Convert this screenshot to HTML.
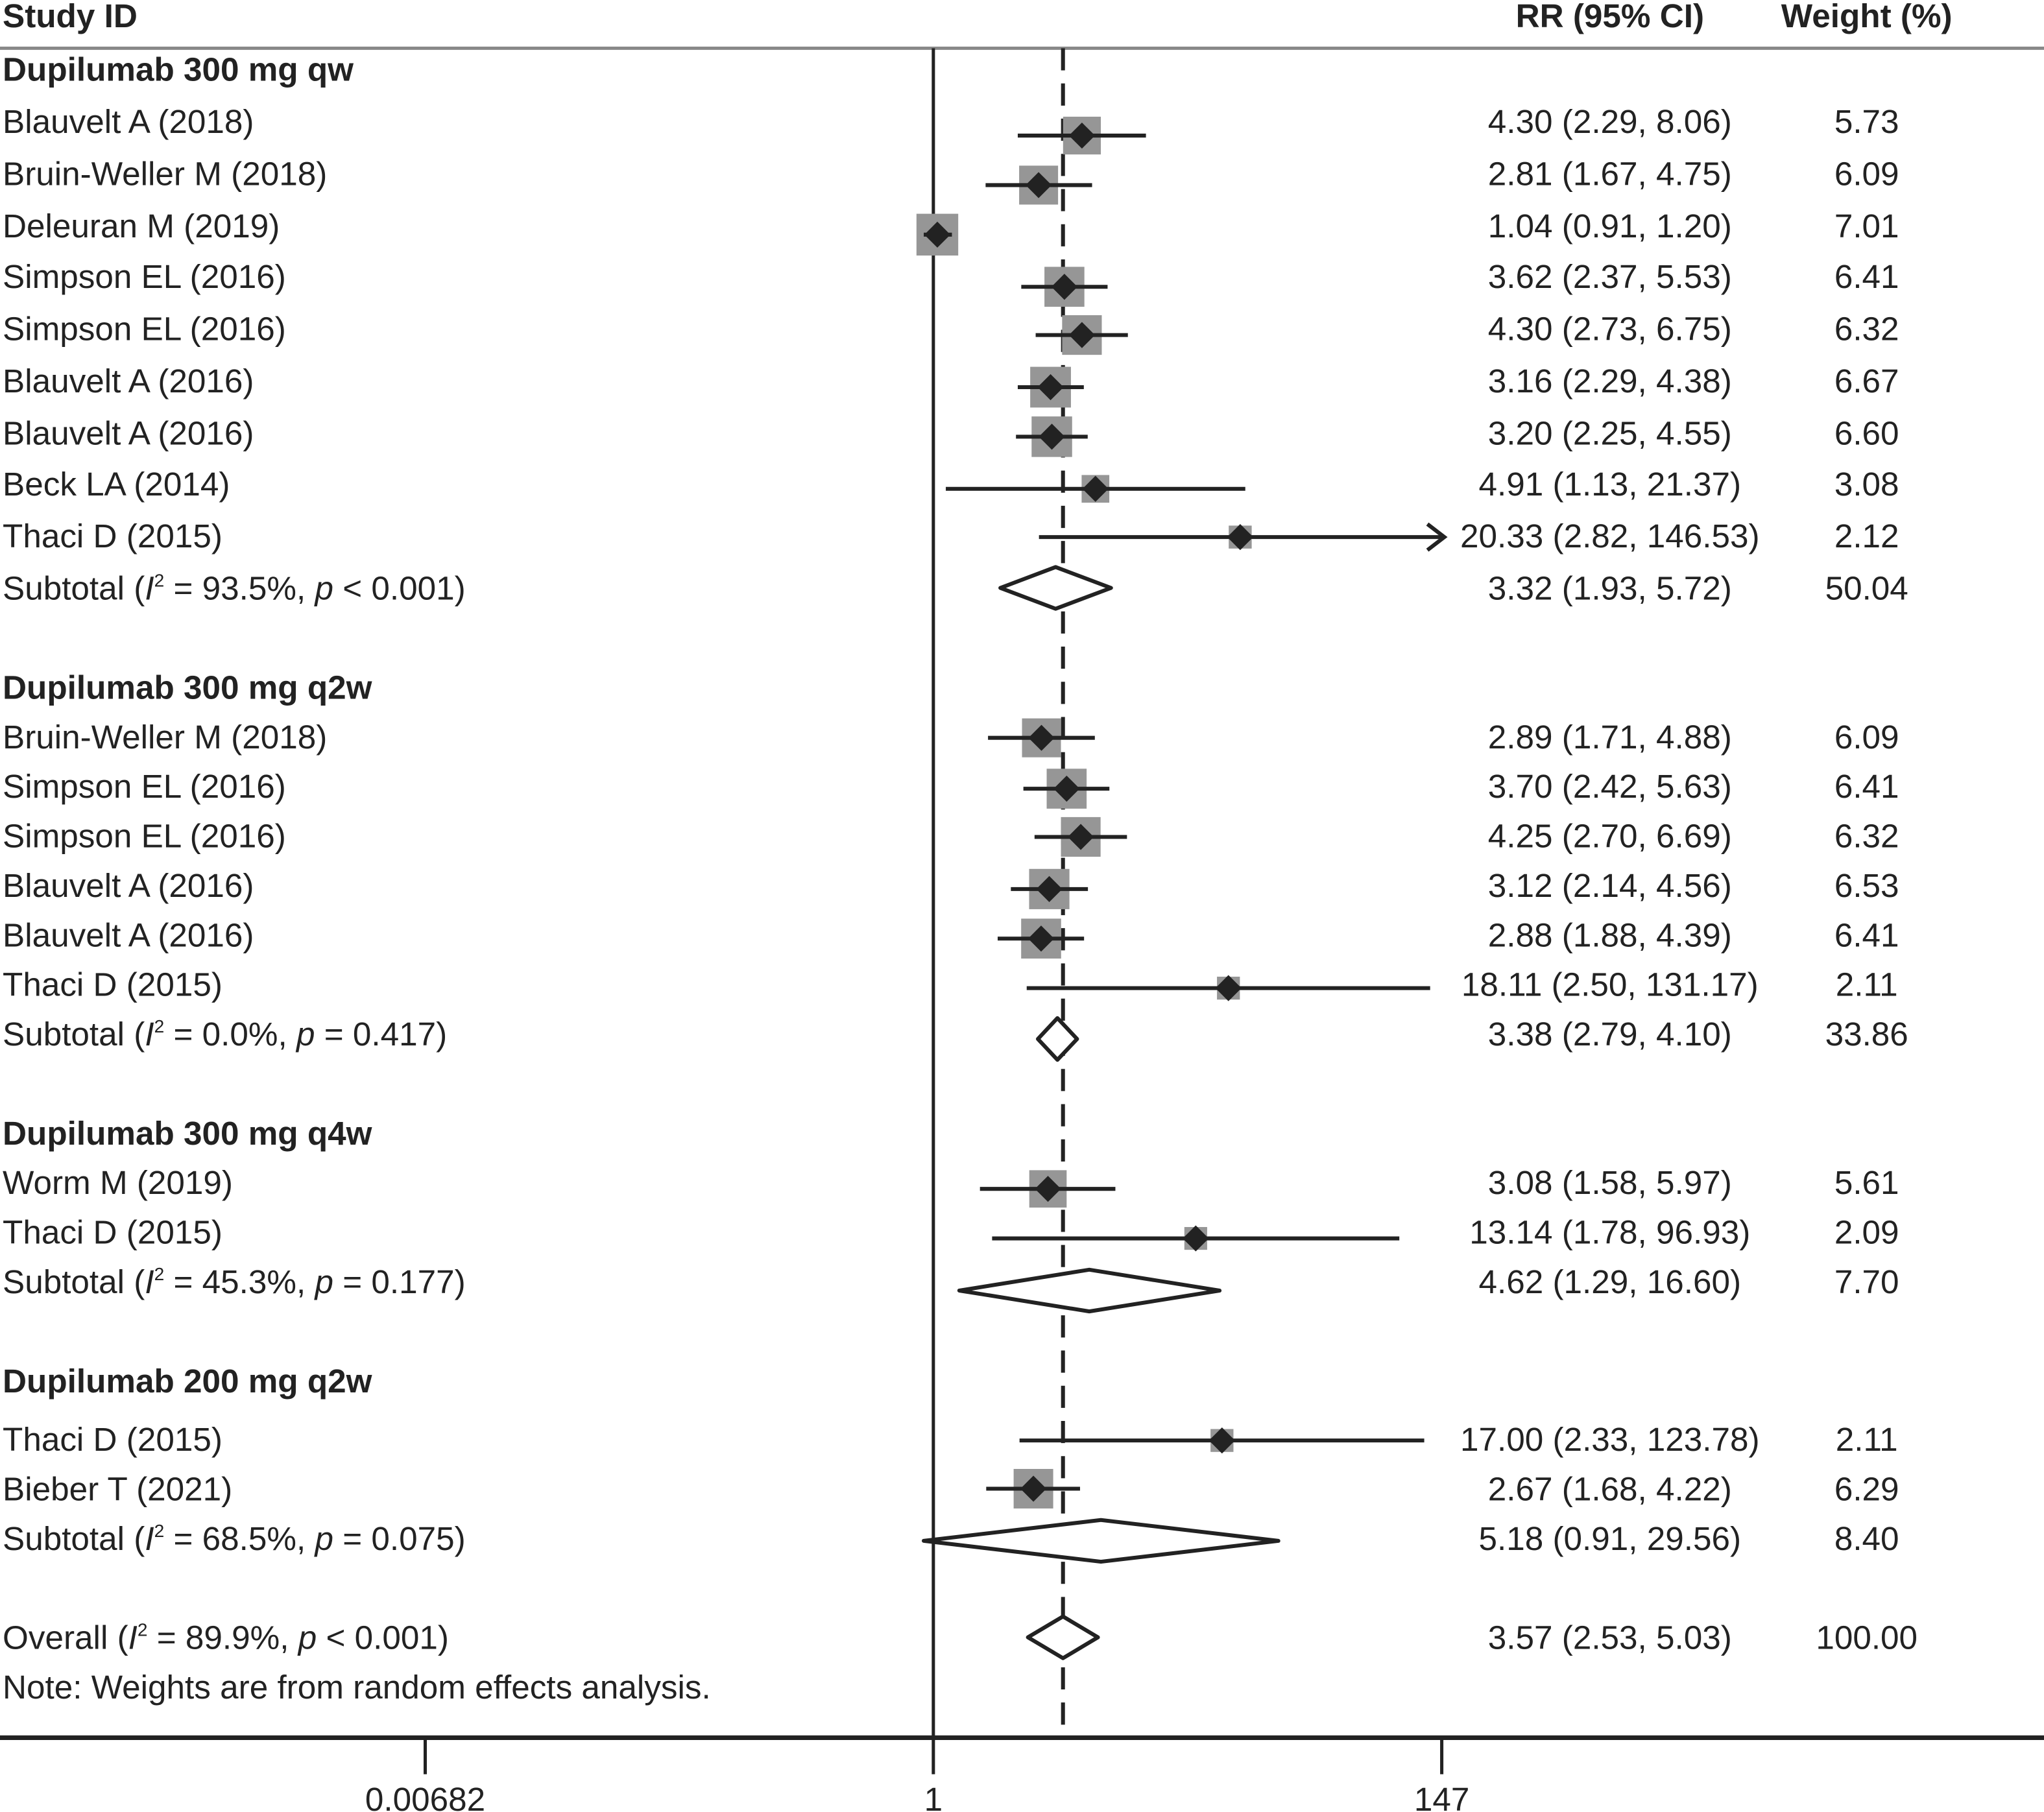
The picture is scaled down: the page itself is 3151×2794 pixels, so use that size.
<!DOCTYPE html>
<html><head><meta charset="utf-8"><style>
html,body{margin:0;padding:0;background:#fff;}
svg{display:block;}
text{font-family:"Liberation Sans",sans-serif;fill:#222;}
</style></head><body>
<svg id="plot" width="3151" height="2794" viewBox="0 0 1568 1390" preserveAspectRatio="none" xmlns="http://www.w3.org/2000/svg"></svg>
<script>
// ---- data ----
const studyLabels = ["Blauvelt A (2018)","Bruin-Weller M (2018)","Deleuran M (2019)","Simpson EL (2016)","Simpson EL (2016)","Blauvelt A (2016)","Blauvelt A (2016)","Beck LA (2014)","Thaci D (2015)",
"Bruin-Weller M (2018)","Simpson EL (2016)","Simpson EL (2016)","Blauvelt A (2016)","Blauvelt A (2016)","Thaci D (2015)",
"Worm M (2019)","Thaci D (2015)",
"Thaci D (2015)","Bieber T (2021)"];
const studyGroup = [0,0,0,0,0,0,0,0,0, 1,1,1,1,1,1, 2,2, 3,3];
const rrValues = [4.30,2.81,1.04,3.62,4.30,3.16,3.20,4.91,20.33, 2.89,3.70,4.25,3.12,2.88,18.11, 3.08,13.14, 17.00,2.67];
const ciLower = [2.29,1.67,0.91,2.37,2.73,2.29,2.25,1.13,2.82, 1.71,2.42,2.70,2.14,1.88,2.50, 1.58,1.78, 2.33,1.68];
const ciUpper = [8.06,4.75,1.20,5.53,6.75,4.38,4.55,21.37,146.53, 4.88,5.63,6.69,4.56,4.39,131.17, 5.97,96.93, 123.78,4.22];
const weights = [5.73,6.09,7.01,6.41,6.32,6.67,6.60,3.08,2.12, 6.09,6.41,6.32,6.53,6.41,2.11, 5.61,2.09, 2.11,6.29];
const groupNames = ["Dupilumab 300 mg qw","Dupilumab 300 mg q2w","Dupilumab 300 mg q4w","Dupilumab 200 mg q2w"];
const subRR = [3.32,3.38,4.62,5.18];
const subLo = [1.93,2.79,1.29,0.91];
const subHi = [5.72,4.10,16.60,29.56];
const subWeight = [50.04,33.86,7.70,8.40];
const subI2 = ["93.5%","0.0%","45.3%","68.5%"];
const subP = ["< 0.001","= 0.417","= 0.177","= 0.075"];
const overallRR = 3.57, overallLo = 2.53, overallHi = 5.03;
const overallI2 = "89.9%", overallP = "< 0.001";
const axisTicks = [0.00682, 1, 147];
const axisTickLabels = ["0.00682","1","147"];
// ---- layout ----
const svg = document.getElementById('plot');
const NS = "http://www.w3.org/2000/svg";
const X0 = 716, K = 78.15, XMAX = 140;
function xs(v){ return X0 + K*Math.log(v); }
const headerY = [53,527,869,1059];
const rowTextY = [93,133,173,212,252,292,332,371,411, 565,603,641,679,717,755, 907,945, 1104,1142];
const rowMarkY = [104,142,180,220,257,297,335,375,412, 566,605,642,682,720,758, 912,950, 1105,1142];
const subTextY = [451,793,983,1180];
const subMarkY = [451,797,990,1182];
const overallY = 1256;
const FS = 25.5;
function el(tag, attrs, parent){ const e=document.createElementNS(NS,tag); for(const k in attrs) e.setAttribute(k,attrs[k]); (parent||svg).appendChild(e); return e; }
function fmt(v){ return v.toFixed(2); }
function txt(x,y,s,anchor,bold){ const t=el('text',{x:x,y:y+9,'font-size':FS,'text-anchor':anchor||'start'}); if(bold) t.setAttribute('font-weight','bold'); t.textContent=s; return t; }
function statTxt(x,y,prefix,i2,p){
  const t=el('text',{x:x,y:y+9,'font-size':FS});
  let s=el('tspan',{},t); s.textContent=prefix+" (";
  s=el('tspan',{'font-style':'italic'},t); s.textContent="I";
  s=el('tspan',{'font-size':14,dy:-10},t); s.textContent="2";
  s=el('tspan',{dy:10},t); s.textContent=" = "+i2+", ";
  s=el('tspan',{'font-style':'italic'},t); s.textContent="p";
  s=el('tspan',{},t); s.textContent=" "+p+")";
  return t;
}
// header
let t=txt(2,12,"Study ID","start",true);  
t=txt(1235,12,"RR (95% CI)","middle",true);  
t=txt(1432,12,"Weight (%)","middle",true);  
let ln=el('line',{x1:0,y1:37,x2:1568,y2:37,stroke:'#888','stroke-width':2.5});
 
// reference lines
ln=el('line',{x1:X0,y1:37,x2:X0,y2:1333,stroke:'#222','stroke-width':2.5});
 
ln=el('line',{x1:xs(overallRR),y1:37,x2:xs(overallRR),y2:1333,stroke:'#222','stroke-width':3,'stroke-dasharray':'17,10'});
 
// group headers
groupNames.forEach((g,i)=>{ const e=txt(2,headerY[i],g,'start',true);   });
// studies
studyLabels.forEach((lab,i)=>{
  const ty=rowTextY[i], my=rowMarkY[i];
  let e=txt(2,ty,lab);  
  e=txt(1235,ty,fmt(rrValues[i])+" ("+fmt(ciLower[i])+", "+fmt(ciUpper[i])+")","middle");  
  e=txt(1432,ty,fmt(weights[i]),"middle");  
  const cx=xs(rrValues[i]); const s=12.1*Math.sqrt(weights[i]);
  const sq=el('rect',{x:cx-s/2,y:my-s/2,width:s,height:s,fill:'#969696'});
   
  const clipped = ciUpper[i]>XMAX;
  const hiX = clipped ? xs(147)+2 : xs(ciUpper[i]);
  const ci=el('line',{x1:xs(ciLower[i]),y1:my,x2:hiX,y2:my,stroke:'#222','stroke-width':3});
   
  if(clipped){ const ax=hiX; const ar=el('polyline',{points:(ax-13)+','+(my-10)+' '+ax+','+my+' '+(ax-13)+','+(my+10),fill:'none',stroke:'#222','stroke-width':3});
      }
  const d=el('polygon',{points:(cx-10)+','+my+' '+cx+','+(my-10)+' '+(cx+10)+','+my+' '+cx+','+(my+10),fill:'#222'});
   
});
function diamond(rr,lo,hi,y,h,name){
  const p=el('polygon',{points:xs(lo)+','+y+' '+xs(rr)+','+(y-h)+' '+xs(hi)+','+y+' '+xs(rr)+','+(y+h),fill:'#fff',stroke:'#222','stroke-width':3,'stroke-linejoin':'round'});
   
}
subRR.forEach((rr,i)=>{
  let e=statTxt(2,subTextY[i],"Subtotal",subI2[i],subP[i]);  
  e=txt(1235,subTextY[i],fmt(rr)+" ("+fmt(subLo[i])+", "+fmt(subHi[i])+")","middle");  
  e=txt(1432,subTextY[i],fmt(subWeight[i]),"middle");  
  diamond(rr,subLo[i],subHi[i],subMarkY[i],16,'subtotal-diamond');
});
let e=statTxt(2,overallY,"Overall",overallI2,overallP);  
e=txt(1235,overallY,fmt(overallRR)+" ("+fmt(overallLo)+", "+fmt(overallHi)+")","middle");  
e=txt(1432,overallY,"100.00","middle");  
diamond(overallRR,overallLo,overallHi,overallY,16,'overall-diamond');
e=txt(2,1294,"Note: Weights are from random effects analysis.");  
// axis
ln=el('line',{x1:0,y1:1333,x2:1568,y2:1333,stroke:'#222','stroke-width':3.5});
 
axisTicks.forEach((v,i)=>{
  const tk=el('line',{x1:xs(v),y1:1333,x2:xs(v),y2:1361,stroke:'#222','stroke-width':2.5});
   
  const tl=txt(xs(v),1380,axisTickLabels[i],'middle');  
});
</script>
</body></html>
